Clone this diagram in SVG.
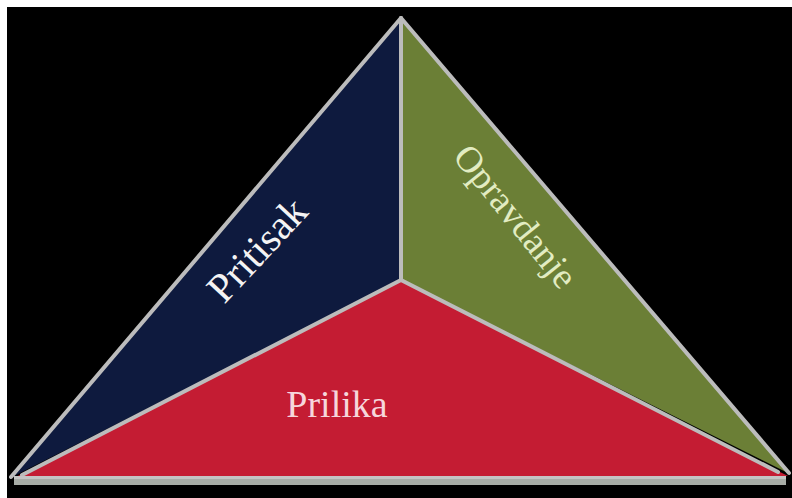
<svg xmlns="http://www.w3.org/2000/svg" width="792" height="498" viewBox="0 0 792 498">
<style>
.edge{stroke:#bcbcbc;stroke-width:4;stroke-linecap:round;fill:none}
.lbl{font-family:"Liberation Serif","Times New Roman",serif;text-anchor:middle}
</style>
<rect x="0" y="0" width="792" height="498" fill="#ffffff"/>
<rect x="7" y="7" width="785" height="491" fill="#000000"/>
<g id="pritisak">
<polygon points="401,18 10,478 401,280" fill="#0e1a3e"/>
<text class="lbl" x="0" y="0" font-size="41" fill="#f4f4f4" transform="translate(267,259) rotate(-47)">Pritisak</text>
</g>
<g id="opravdanje">
<polygon points="401,18 401,280 790,474" fill="#6b7f36"/>
<text class="lbl" x="0" y="0" font-size="37" fill="#e2ecc2" transform="translate(506,224) rotate(51)">Opravdanje</text>
</g>
<g id="prilika">
<polygon points="401,281 14,478 788,476" fill="#c41c33"/>
<text class="lbl" x="337" y="417" font-size="38" fill="#f6d6dc">Prilika</text>
</g>
<g id="connectors">
<line class="edge" x1="401" y1="18" x2="11" y2="477"/>
<line class="edge" x1="401" y1="18" x2="789" y2="473"/>
<line class="edge" x1="401" y1="18" x2="401" y2="280"/>
<line class="edge" x1="401" y1="280" x2="22" y2="475"/>
<line class="edge" x1="401" y1="280" x2="778" y2="472"/>
<rect x="14" y="476" width="772" height="9" fill="#a7aca6"/>
<rect x="14" y="476" width="772" height="3" fill="#c4c4c4"/>
</g>
</svg>
